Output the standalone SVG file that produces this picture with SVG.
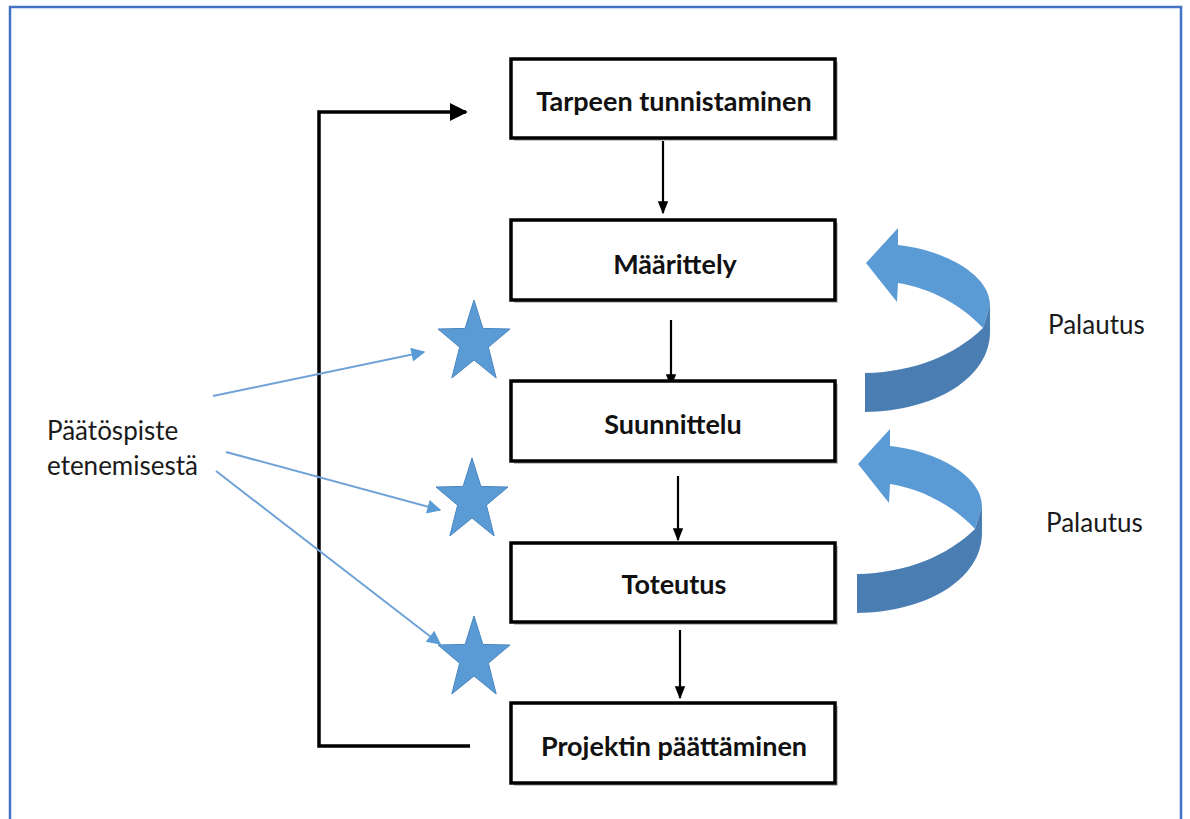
<svg xmlns="http://www.w3.org/2000/svg" width="1190" height="819" viewBox="0 0 1190 819">
  <style>
    .box { fill: #ffffff; stroke: #000000; stroke-width: 3.5; }
    .shadow { fill: #9a9a9a; opacity: 0.6; }
    .label { font-family: Lato, "Open Sans", sans-serif; font-weight: bold; font-size: 27px; fill: #111111; text-anchor: middle; }
    .note { font-family: Lato, "Open Sans", sans-serif; font-size: 26px; fill: #1a1a1a; }
    .flow { stroke: #000000; stroke-width: 2.2; fill: none; }
    .loop { stroke: #000000; stroke-width: 3.5; fill: none; }
    .pointer { stroke: #6fa3d8; stroke-width: 2; fill: none; }
    .star { fill: #5b9bd5; stroke: #4a86c0; stroke-width: 1; }
    .ret-top { fill: #5b9bd5; }
    .ret-bottom { fill: #4a7eb2; }
  </style>
  <defs>
    <marker id="arrowFlow" viewBox="0 0 10 10" refX="9" refY="5" markerWidth="13" markerHeight="13" markerUnits="userSpaceOnUse" orient="auto">
      <path d="M0,1 L10,5 L0,9 Z" fill="#000"/>
    </marker>
    <marker id="arrowLoop" viewBox="0 0 10 10" refX="9" refY="5" markerWidth="18" markerHeight="18" markerUnits="userSpaceOnUse" orient="auto">
      <path d="M0,0 L10,5 L0,10 Z" fill="#000"/>
    </marker>
    <marker id="arrowBlue" viewBox="0 0 10 10" refX="9" refY="5" markerWidth="16" markerHeight="14" markerUnits="userSpaceOnUse" orient="auto">
      <path d="M0,0 L10,5 L0,10 Z" fill="#5b9bd5"/>
    </marker>
    <polygon id="starShape" points="0,-42 8.9,-13.6 36,-13 14.4,5.2 22.2,36 0,18 -22.2,36 -14.4,5.2 -36,-13 -8.9,-13.6"/>
    <g id="returnArrow">
      <path class="ret-top" d="M898,228 L866,263 L897,302 L898,283 C930,288 962,305 983,328 L990,305 C990,275 945,250 898,245 Z"/>
      <path class="ret-bottom" d="M983,328 C955,355 915,372 865,373 L865,412 C935,411 990,378 990,332 L990,305 Z"/>
    </g>
  </defs>

  <rect x="0" y="0" width="1190" height="819" fill="#ffffff"/>
  <!-- page frame -->
  <rect x="10" y="7" width="1171" height="830" fill="none" stroke="#4472c4" stroke-width="2.5"/>

  <!-- connectors -->
  <g id="connectors">
    <line class="flow" x1="663" y1="141" x2="663" y2="213" marker-end="url(#arrowFlow)"/>
    <line class="flow" x1="671" y1="320" x2="671" y2="386" marker-end="url(#arrowFlow)"/>
    <line class="flow" x1="678" y1="476" x2="678" y2="540" marker-end="url(#arrowFlow)"/>
    <line class="flow" x1="680" y1="630" x2="680" y2="698" marker-end="url(#arrowFlow)"/>
    <polyline class="loop" points="470,746 319,746 319,112 466,112" marker-end="url(#arrowLoop)"/>
    <line class="pointer" x1="213" y1="396" x2="424" y2="352" marker-end="url(#arrowBlue)"/>
    <line class="pointer" x1="226" y1="452" x2="440" y2="510" marker-end="url(#arrowBlue)"/>
    <line class="pointer" x1="216" y1="471" x2="440" y2="644" marker-end="url(#arrowBlue)"/>
    <use href="#returnArrow"/>
    <use href="#returnArrow" transform="translate(-8,201)"/>
  </g>

  <!-- process steps -->
  <g id="step-tarpeen">
    <rect class="shadow" x="514" y="62" width="324" height="79"/>
    <rect class="box" x="511" y="59" width="324" height="79"/>
    <text class="label" x="674" y="111">Tarpeen tunnistaminen</text>
  </g>
  <g id="step-maarittely">
    <rect class="shadow" x="514" y="223" width="324" height="80"/>
    <rect class="box" x="511" y="220" width="324" height="80"/>
    <text class="label" x="675" y="274">Määrittely</text>
  </g>
  <g id="step-suunnittelu">
    <rect class="shadow" x="514" y="384" width="324" height="80"/>
    <rect class="box" x="511" y="381" width="324" height="80"/>
    <text class="label" x="673" y="434">Suunnittelu</text>
  </g>
  <g id="step-toteutus">
    <rect class="shadow" x="514" y="546" width="324" height="79"/>
    <rect class="box" x="511" y="543" width="324" height="79"/>
    <text class="label" x="674" y="594">Toteutus</text>
  </g>
  <g id="step-projektin">
    <rect class="shadow" x="514" y="706" width="324" height="80"/>
    <rect class="box" x="511" y="703" width="324" height="80"/>
    <text class="label" x="674" y="756">Projektin päättäminen</text>
  </g>

  <!-- decision points -->
  <g id="decision-1"><use href="#starShape" class="star" transform="translate(474,342)"/></g>
  <g id="decision-2"><use href="#starShape" class="star" transform="translate(472,500)"/></g>
  <g id="decision-3"><use href="#starShape" class="star" transform="translate(474,658)"/></g>

  <!-- annotations -->
  <g id="note-paatospiste">
    <text class="note" x="47" y="440">Päätöspiste</text>
    <text class="note" x="47" y="475">etenemisestä</text>
  </g>
  <g id="note-palautus-1"><text class="note" x="1048" y="334" font-size="24">Palautus</text></g>
  <g id="note-palautus-2"><text class="note" x="1046" y="532" font-size="24">Palautus</text></g>
</svg>
